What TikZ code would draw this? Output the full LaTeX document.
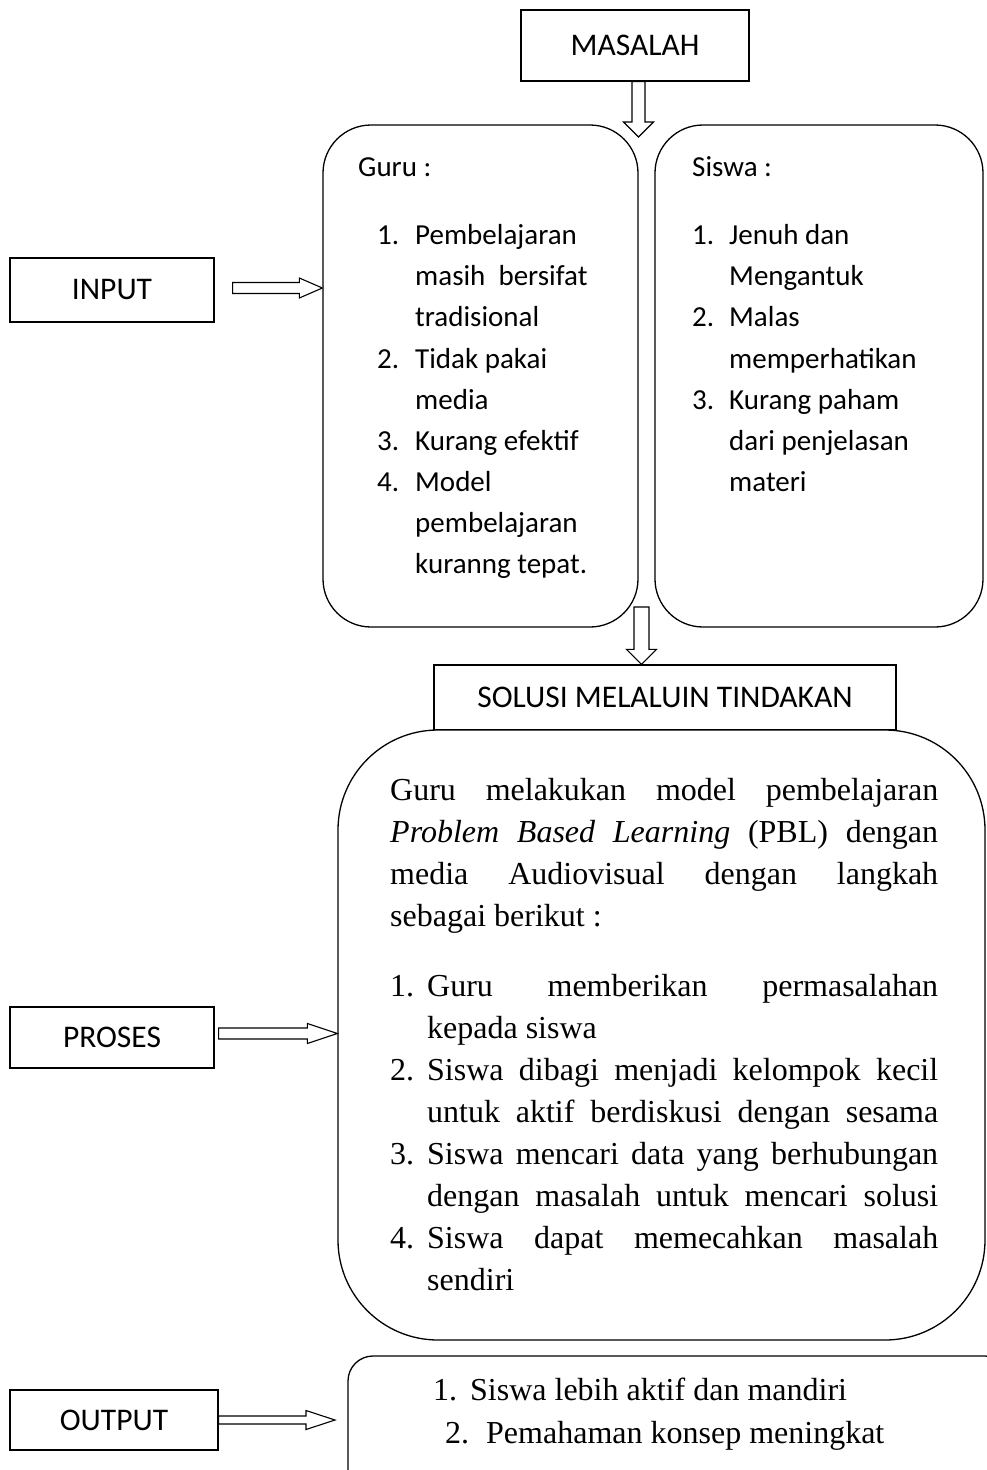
\documentclass[tikz,border=0pt]{standalone}
\usepackage{fontspec}
\setmainfont{Liberation Serif}
\newfontfamily\calibri{Carlito}
\usetikzlibrary{calc}

% hollow block arrow: from, to, shaft half width, head half width, head length
\newcommand{\hollowarrow}[5]{%
  \coordinate (arrS) at (#1);
  \coordinate (arrE) at (#2);
  \coordinate (arrH) at ($(arrE)!#5!(arrS)$);
  \draw[hollowarr] ($(arrS)!#3!90:(arrE)$) -- ($(arrH)!#3!90:(arrE)$)
    -- ($(arrH)!#4!90:(arrE)$) -- (arrE) -- ($(arrH)!#4!-90:(arrE)$)
    -- ($(arrH)!#3!-90:(arrE)$) -- ($(arrS)!#3!-90:(arrE)$) -- cycle;}

\begin{document}
\begin{tikzpicture}[x=1pt,y=-1pt,
    tagbox/.style={draw,line width=1.3pt,inner sep=0pt,fill=white,
      font=\calibri\fontsize{31.5}{38}\selectfont},
    roundbox/.style={draw,line width=1.3pt,inner sep=0pt,fill=white,rounded corners=#1},
    sanslist/.style={anchor=north west,inner sep=0pt,align=left,
      font=\calibri\fontsize{29}{41.1}\selectfont},
    seriflist/.style={anchor=north west,inner sep=0pt,align=left,
      font=\fontsize{32}{42}\selectfont},
    hollowarr/.style={draw,line width=1.1pt,fill=white,line join=miter}]
    \useasboundingbox (0,0) rectangle (987,1470);
    \clip (0,0) rectangle (987,1470);

    % boxes
    \node[tagbox,minimum width=228pt,minimum height=71pt] (masalah) at (635,45.5) {MASALAH};
    \node[roundbox=48pt,minimum width=315pt,minimum height=502pt] (guru) at (480.5,376) {};
    \node[roundbox=48pt,minimum width=328pt,minimum height=502pt] (siswa) at (819,376) {};
    \node[tagbox,minimum width=204pt,minimum height=64pt] (input) at (112,290) {INPUT};
    \node[tagbox,minimum width=462pt,minimum height=65pt] (solusi) at (665,697.5) {SOLUSI MELALUIN TINDAKAN};
    \node[roundbox=100pt,minimum width=647pt,minimum height=610pt] (tindakan) at (661.5,1035) {};
    \node[tagbox,minimum width=204pt,minimum height=61pt] (proses) at (112,1037.5) {PROSES};
    \node[tagbox,minimum width=208pt,minimum height=60pt] (output) at (114,1420) {OUTPUT};
    \node[roundbox=25pt,minimum width=662pt,minimum height=144pt] (result) at (679,1428) {};

    % texts
    \node[anchor=base west,inner sep=0pt,font=\calibri\fontsize{29}{41.1}\selectfont]
      (guruhead) at (358,176.5) {Guru :};
    \node[sanslist] (gurulist) at (377,222.5) {\rule{0pt}{22pt}\makebox[38pt][l]{1.}Pembelajaran\\
      \hspace*{38pt}masih~ bersifat\\
      \hspace*{38pt}tradisional\\
      \makebox[38pt][l]{2.}Tidak pakai\\
      \hspace*{38pt}media\\
      \makebox[38pt][l]{3.}Kurang efektif\\
      \makebox[38pt][l]{4.}Model\\
      \hspace*{38pt}pembelajaran\\
      \hspace*{38pt}kuranng tepat.};
    \node[anchor=base west,inner sep=0pt,font=\calibri\fontsize{29}{41.1}\selectfont]
      (siswahead) at (692,176.5) {Siswa :};
    \node[sanslist] (siswalist) at (692,222.5) {\rule{0pt}{22pt}\makebox[37pt][l]{1.}Jenuh dan\\
      \hspace*{37pt}Mengantuk\\
      \makebox[37pt][l]{2.}Malas\\
      \hspace*{37pt}memperhatikan\\
      \makebox[37pt][l]{3.}Kurang paham\\
      \hspace*{37pt}dari penjelasan\\
      \hspace*{37pt}materi};
    \node[seriflist] (tindakantext) at (390,776) {\rule{0pt}{24pt}\makebox[548pt][s]{Guru melakukan model pembelajaran}\\
      \makebox[548pt][s]{\textit{Problem Based Learning} (PBL) dengan}\\
      \makebox[548pt][s]{media Audiovisual dengan langkah}\\
      sebagai berikut :\\[28pt]
      \makebox[37pt][l]{1.}\makebox[511pt][s]{Guru memberikan permasalahan}\\
      \hspace*{37pt}kepada siswa\\
      \makebox[37pt][l]{2.}\makebox[511pt][s]{Siswa dibagi menjadi kelompok kecil}\\
      \hspace*{37pt}\makebox[511pt][s]{untuk aktif berdiskusi dengan sesama}\\
      \makebox[37pt][l]{3.}\makebox[511pt][s]{Siswa mencari data yang berhubungan}\\
      \hspace*{37pt}\makebox[511pt][s]{dengan masalah untuk mencari solusi}\\
      \makebox[37pt][l]{4.}\makebox[511pt][s]{Siswa dapat memecahkan masalah}\\
      \hspace*{37pt}sendiri};
    \node[seriflist,font=\fontsize{32}{43}\selectfont] (resulttext) at (433,1376)
      {\rule{0pt}{24pt}\makebox[37pt][l]{1.}Siswa lebih aktif dan mandiri\\
      \hspace*{12pt}\makebox[41pt][l]{2.}Pemahaman konsep meningkat};

    % arrows
    \coordinate (masalahtip) at (638.5,137);
    \coordinate (gurugap) at (641.5,607);
    \coordinate (outputtip) at (335,1420);
    \hollowarrow{$(masalah.south)+(3.5,0)$}{masalahtip}{6.5pt}{15pt}{15pt}
    \hollowarrow{$(input.east)+(18,-2)$}{$(input.east -| guru.west)+(0,-2)$}{5.5pt}{10pt}{23pt}
    \hollowarrow{gurugap}{$(solusi.north)+(-23.5,0)$}{7.5pt}{15pt}{15pt}
    \hollowarrow{$(proses.east)+(4,-4)$}{$(proses.east -| tindakan.west)+(0,-4)$}{5.5pt}{10pt}{30pt}
    \hollowarrow{output.east}{outputtip}{4pt}{9.5pt}{29pt}
\end{tikzpicture}
\end{document}
